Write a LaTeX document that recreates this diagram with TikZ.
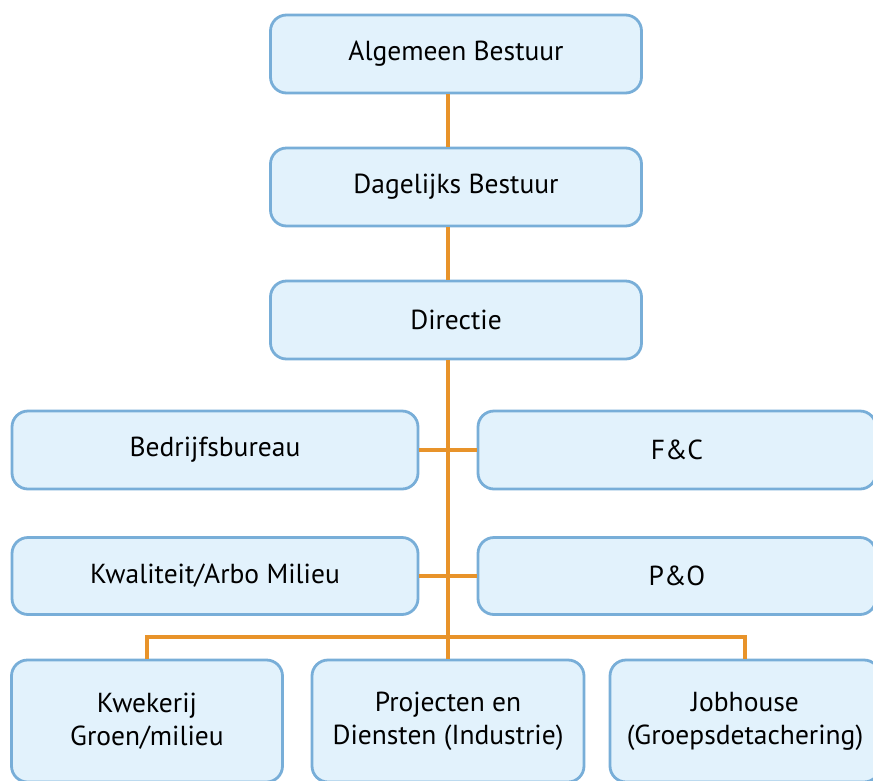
\documentclass[tikz,border=0pt]{standalone}
\usepackage{fontspec}
\setmainfont{PT Sans}
\definecolor{boxfill}{HTML}{E2F2FC}
\definecolor{boxline}{HTML}{78AED8}
\definecolor{linkline}{HTML}{E8932A}
\tikzset{
  unit/.style={draw=boxline, fill=boxfill, line width=2.8pt, rounded corners=16pt,
    align=center, inner sep=0pt, font=\fontsize{27.5}{33}\selectfont},
  wideunit/.style={unit, minimum width=406pt, minimum height=78pt},
  link/.style={draw=linkline, line width=4pt}
}
\begin{document}
\begin{tikzpicture}[x=1pt,y=-1pt]
  \useasboundingbox (0,0) rectangle (873,780);
  \clip (0,0) rectangle (873,780);

  % Top chain
  \node[unit, minimum width=371pt, minimum height=78pt] (alg) at (456,54) {Algemeen Bestuur};
  \node[unit, minimum width=371pt, minimum height=78pt] (dag) at (456,187) {Dagelijks Bestuur};
  \node[unit, minimum width=371pt, minimum height=78pt] (dir) at (456,320) {Directie};

  % Staff units
  \node[wideunit] (bed) at (215,450) {Bedrijfsbureau};
  \node[wideunit, minimum width=398pt] (fc) at (677,450) {F\&C};
  \node[wideunit, minimum height=77pt] (kwa) at (215,576) {Kwaliteit/Arbo Milieu};
  \node[wideunit, minimum width=398pt, minimum height=77pt] (po) at (677,576) {P\&O};

  % Line units
  \node[unit, minimum width=271pt, minimum height=122pt] (kwe) at (147,721) {Kwekerij\\Groen/milieu};
  \node[unit, minimum width=272pt, minimum height=122pt] (pro) at (448,721) {Projecten en\\Diensten (Industrie)};
  \node[unit, minimum width=270pt, minimum height=122pt] (job) at (745,721) {Jobhouse\\(Groepsdetachering)};

  % Connectors
  \coordinate (spine) at (448,0);
  \coordinate (bus) at (0,637);
  \draw[link] (alg.south -| spine) -- (dag.north -| spine);
  \draw[link] (dag.south -| spine) -- (dir.north -| spine);
  \draw[link] (dir.south -| spine) -- (pro.north);
  \draw[link] (bed.east) -- (fc.west);
  \draw[link] (kwa.east) -- (po.west);
  \draw[link] (kwe.north) -- (kwe.north |- bus) -- (job.north |- bus) -- (job.north);
\end{tikzpicture}
\end{document}
